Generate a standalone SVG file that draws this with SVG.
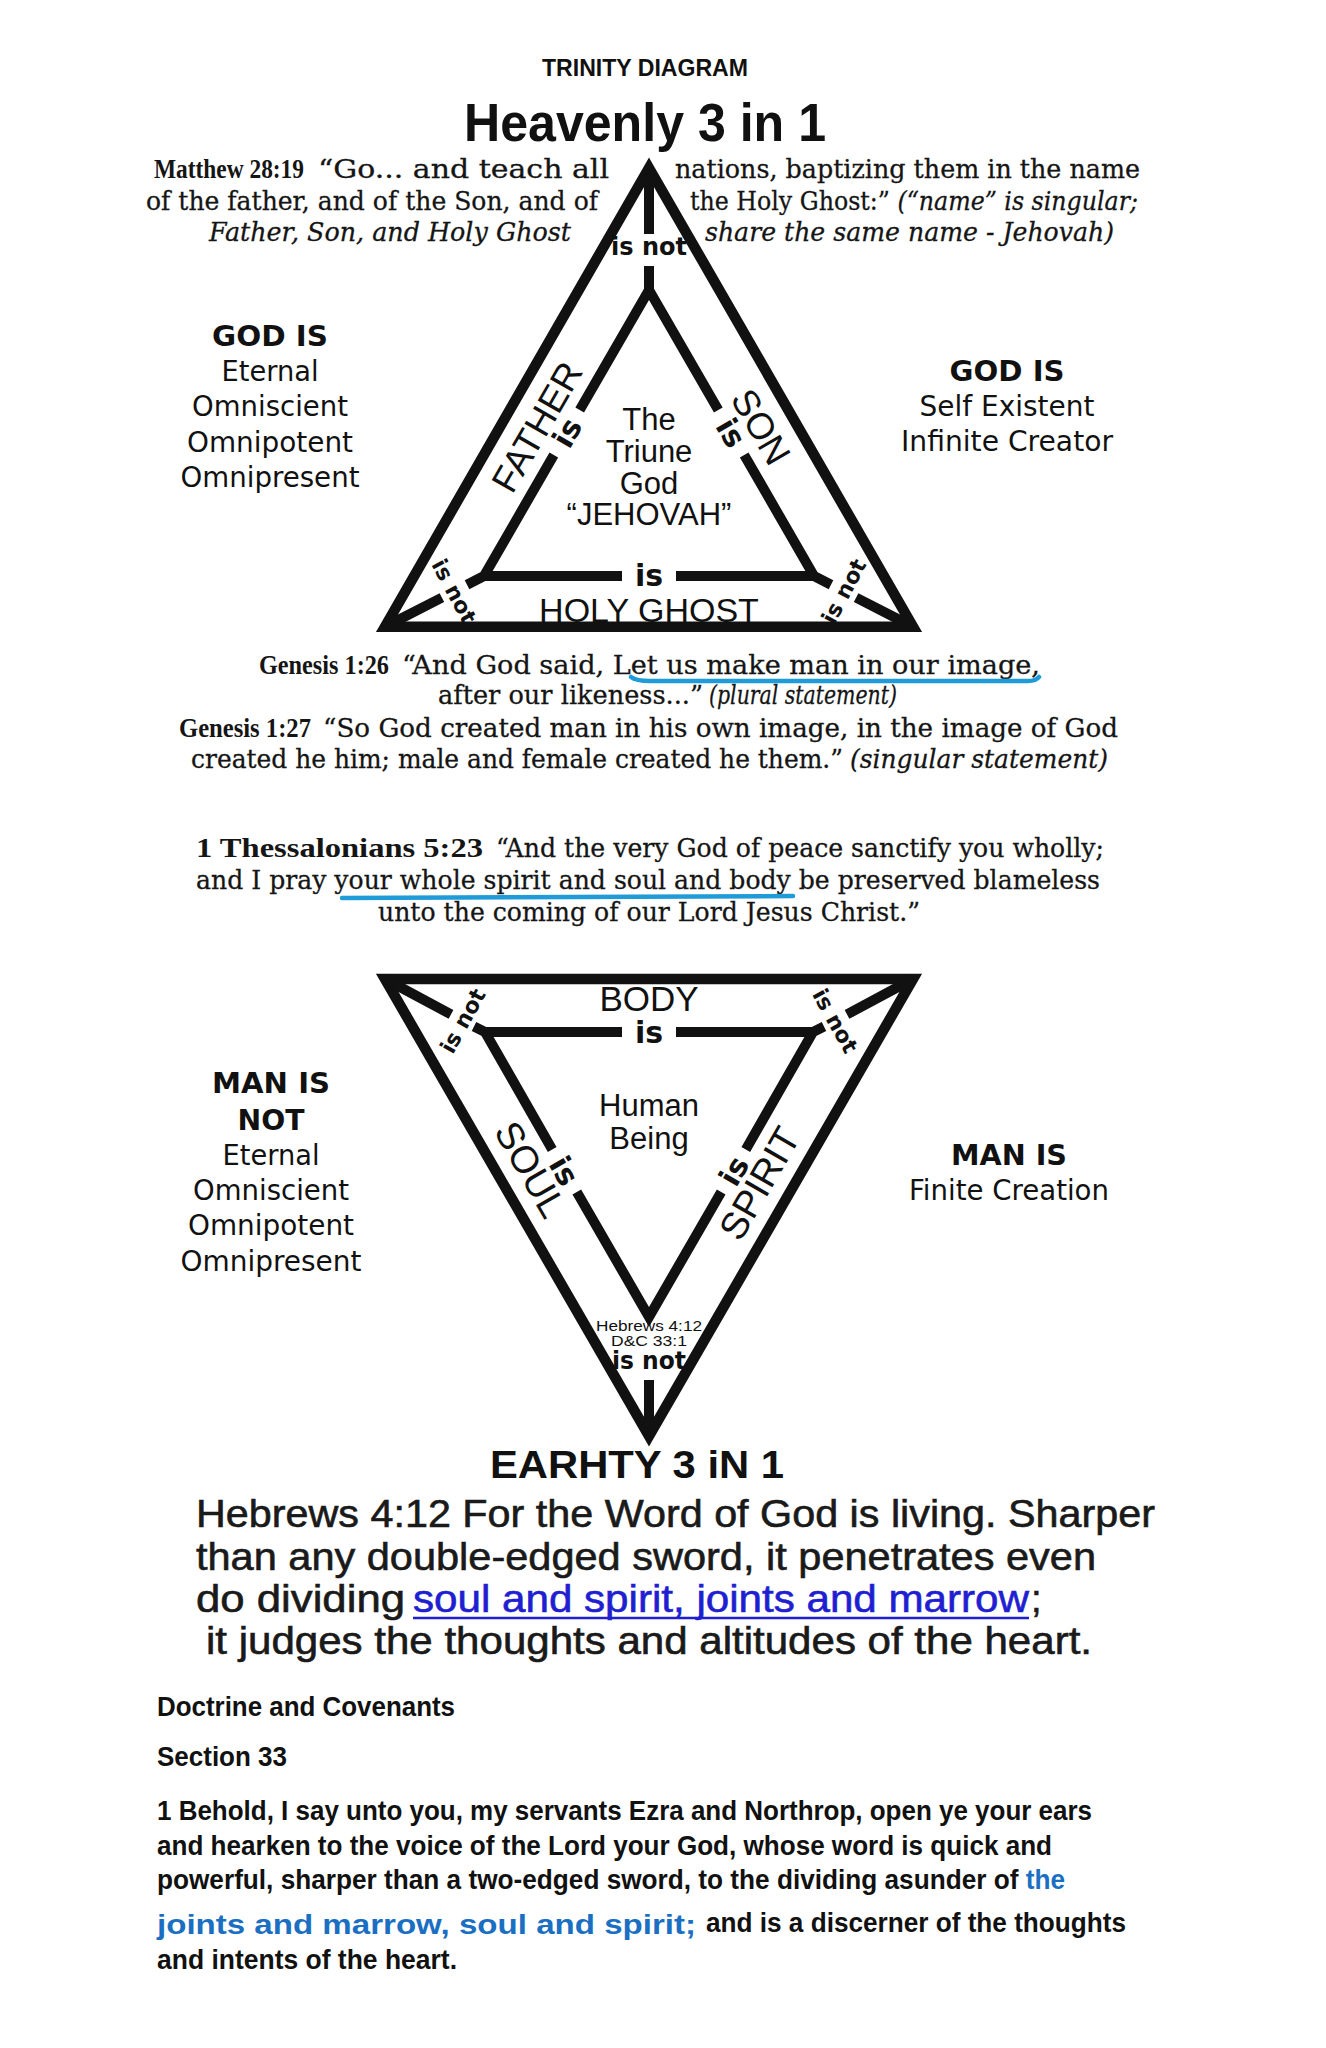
<svg xmlns="http://www.w3.org/2000/svg" width="1326" height="2048" viewBox="0 0 1326 2048">
<style>
.bg{fill:#ffffff}
.edge{fill:none;stroke:#111;stroke-width:10.5;stroke-linejoin:miter;stroke-miterlimit:10;stroke-linecap:butt}
.inner{fill:none;stroke:#111;stroke-width:10;stroke-linejoin:miter;stroke-miterlimit:10;stroke-linecap:butt}
.serif{font-family:"DejaVu Serif","Liberation Serif",serif;font-size:26px;fill:#151515;stroke:#151515;stroke-width:0.3}
.lead{font-family:"Liberation Serif","DejaVu Serif",serif;font-size:27px;font-weight:bold;fill:#151515}
.it{font-style:italic}
.b{font-weight:bold}
.tah{font-family:"DejaVu Sans","Liberation Sans",sans-serif;font-size:28px;fill:#111;text-anchor:middle}
.hel{font-family:"Liberation Sans",Arial,sans-serif;fill:#111}
.mid{text-anchor:middle}
.lbl{font-family:"DejaVu Sans","Liberation Sans",sans-serif;font-weight:bold;fill:#111;text-anchor:middle}
.heb{font-family:"Liberation Sans",Arial,sans-serif;font-size:38px;fill:#1a1a1a;stroke:#1a1a1a;stroke-width:0.6}
.hebblue{fill:#1f1fd1;stroke:#1f1fd1}
.dc{font-family:"Liberation Sans",Arial,sans-serif;font-size:27px;font-weight:bold;fill:#111}
.dcblue{fill:#1b6fc2}
.ulblue{fill:none;stroke:#1f9bd8;stroke-width:4.5;stroke-linecap:round}
</style>
<rect class="bg" x="0" y="0" width="1326" height="2048"/>

<g id="titles">
<text class="hel b mid" x="645" y="76" font-size="23" textLength="206" lengthAdjust="spacingAndGlyphs">TRINITY DIAGRAM</text>
<text class="hel b mid" x="645" y="141" font-size="53" textLength="362" lengthAdjust="spacingAndGlyphs">Heavenly 3 in 1</text>
</g>

<g id="matthew">
<text class="lead" x="154" y="178" textLength="150" lengthAdjust="spacingAndGlyphs">Matthew 28:19</text>
<text class="serif" x="318" y="178" textLength="291" lengthAdjust="spacingAndGlyphs">“Go... and teach all</text>
<text class="serif" x="146" y="210" textLength="452" lengthAdjust="spacingAndGlyphs">of the father, and of the Son, and of</text>
<text class="serif it" x="209" y="241" textLength="362" lengthAdjust="spacingAndGlyphs">Father, Son, and Holy Ghost</text>
<text class="serif" x="675" y="178" textLength="465" lengthAdjust="spacingAndGlyphs">nations, baptizing them in the name</text>
<text class="serif" x="690" y="210" textLength="448" lengthAdjust="spacingAndGlyphs">the Holy Ghost:” <tspan class="it">(“name” is singular;</tspan></text>
<text class="serif it" x="705" y="241" textLength="409" lengthAdjust="spacingAndGlyphs">share the same name - Jehovah)</text>
</g>

<g id="god-is-left">
<text class="tah b" x="270" y="346" font-size="29" textLength="116" lengthAdjust="spacingAndGlyphs">GOD IS</text>
<text class="tah" x="270" y="381" textLength="97" lengthAdjust="spacingAndGlyphs">Eternal</text>
<text class="tah" x="270" y="416" textLength="156" lengthAdjust="spacingAndGlyphs">Omniscient</text>
<text class="tah" x="270" y="452" textLength="166" lengthAdjust="spacingAndGlyphs">Omnipotent</text>
<text class="tah" x="270" y="487" textLength="179" lengthAdjust="spacingAndGlyphs">Omnipresent</text>
</g>

<g id="god-is-right">
<text class="tah b" x="1007" y="381" font-size="29" textLength="115" lengthAdjust="spacingAndGlyphs">GOD IS</text>
<text class="tah" x="1007" y="416" textLength="175" lengthAdjust="spacingAndGlyphs">Self Existent</text>
<text class="tah" x="1007" y="451" textLength="212" lengthAdjust="spacingAndGlyphs">Infinite Creator</text>
</g>

<g id="heavenly-triangle">
<path class="edge" d="M649,168 L913,626.75 L385,626.75 Z"/>
<path class="inner" d="M649,168 V234 M649,266 V290"/>
<path class="inner" d="M579.7,410.1 L649,290 L718.3,410.1"/>
<path class="inner" d="M553.8,455 L484,576 L622,576 M484,576 L467,584.8"/>
<path class="inner" d="M744.2,455 L814,576 L676,576 M814,576 L831,584.8"/>
<path class="inner" d="M441.9,597.6 L385,626.75 M856.1,597.6 L913,626.75"/>
<text class="lbl" x="649" y="255" font-size="24" textLength="76" lengthAdjust="spacingAndGlyphs">is not</text>
<text class="lbl" transform="translate(454.4,591.2) rotate(62)" y="8" font-size="22">is not</text>
<text class="lbl" transform="translate(843.6,591.2) rotate(-62)" y="8" font-size="22">is not</text>
<text class="lbl" x="649" y="586" font-size="30">is</text>
<text class="lbl" transform="translate(566.7,432.6) rotate(-60)" y="11" font-size="30">is</text>
<text class="lbl" transform="translate(731.3,432.6) rotate(60)" y="11" font-size="30">is</text>
<text class="hel mid" transform="translate(536.9,426.8) rotate(-60)" y="13" font-size="37">FATHER</text>
<text class="hel mid" transform="translate(761.1,426.8) rotate(60)" y="13" font-size="37">SON</text>
<text class="hel mid" x="649" y="622" font-size="34">HOLY GHOST</text>
<text class="hel mid" x="649" y="430" font-size="31">The</text>
<text class="hel mid" x="649" y="462" font-size="31">Triune</text>
<text class="hel mid" x="649" y="494" font-size="31">God</text>
<text class="hel mid" x="649" y="525" font-size="31">“JEHOVAH”</text>
</g>

<g id="genesis">
<text class="lead" x="259" y="674" textLength="130" lengthAdjust="spacingAndGlyphs">Genesis 1:26</text>
<text class="serif" x="402" y="674" textLength="638" lengthAdjust="spacingAndGlyphs">“And God said, Let us make man in our image,</text>
<text class="serif" x="438" y="704" textLength="265" lengthAdjust="spacingAndGlyphs">after our likeness...”</text>
<text class="serif it" x="709" y="704" textLength="188" lengthAdjust="spacingAndGlyphs">(plural statement)</text>
<text class="lead" x="179" y="737" textLength="132" lengthAdjust="spacingAndGlyphs">Genesis 1:27</text>
<text class="serif" x="323" y="737" textLength="795" lengthAdjust="spacingAndGlyphs">“So God created man in his own image, in the image of God</text>
<text class="serif" x="191" y="768" textLength="652" lengthAdjust="spacingAndGlyphs">created he him; male and female created he them.”</text>
<text class="serif it" x="850" y="768" textLength="258" lengthAdjust="spacingAndGlyphs">(singular statement)</text>
<path class="ulblue" d="M631,677 Q636,681 650,681 L1028,681 Q1036,681 1039,677"/>
</g>

<g id="thessalonians">
<text class="lead" x="196" y="857" textLength="287" lengthAdjust="spacingAndGlyphs">1 Thessalonians 5:23</text>
<text class="serif" x="496" y="857" textLength="608" lengthAdjust="spacingAndGlyphs">“And the very God of peace sanctify you wholly;</text>
<text class="serif" x="196" y="889" textLength="904" lengthAdjust="spacingAndGlyphs">and I pray your whole spirit and soul and body be preserved blameless</text>
<text class="serif" x="378" y="921" textLength="542" lengthAdjust="spacingAndGlyphs">unto the coming of our Lord Jesus Christ.”</text>
<path class="ulblue" d="M342,898 L793,896"/>
</g>

<g id="man-is-not">
<text class="tah b" x="271" y="1093" font-size="29" textLength="118" lengthAdjust="spacingAndGlyphs">MAN IS</text>
<text class="tah b" x="271" y="1130" font-size="29" textLength="67" lengthAdjust="spacingAndGlyphs">NOT</text>
<text class="tah" x="271" y="1165" textLength="97" lengthAdjust="spacingAndGlyphs">Eternal</text>
<text class="tah" x="271" y="1200" textLength="156" lengthAdjust="spacingAndGlyphs">Omniscient</text>
<text class="tah" x="271" y="1235" textLength="166" lengthAdjust="spacingAndGlyphs">Omnipotent</text>
<text class="tah" x="271" y="1271" textLength="181" lengthAdjust="spacingAndGlyphs">Omnipresent</text>
</g>

<g id="man-is-right">
<text class="tah b" x="1009" y="1165" font-size="29" textLength="116" lengthAdjust="spacingAndGlyphs">MAN IS</text>
<text class="tah" x="1009" y="1200" textLength="200" lengthAdjust="spacingAndGlyphs">Finite Creation</text>
</g>

<g id="earthly-triangle">
<path class="edge" d="M385,979 L913,979 L649,1436 Z"/>
<path class="inner" d="M622,1032 L485,1032 L552.2,1149.4 M485,1032 L474,1026.5"/>
<path class="inner" d="M676,1032 L813,1032 L745.8,1149.4 M813,1032 L824,1026.5"/>
<path class="inner" d="M576.8,1192 L649,1317 L721.2,1192"/>
<path class="inner" d="M451,1014.4 L385,979 M847,1014.4 L913,979"/>
<path class="inner" d="M649,1380 V1436"/>
<text class="hel mid" x="649" y="1011" font-size="35">BODY</text>
<text class="lbl" x="649" y="1043" font-size="30">is</text>
<text class="lbl" transform="translate(564.5,1170.7) rotate(60)" y="11" font-size="30">is</text>
<text class="lbl" transform="translate(733.5,1170.7) rotate(-60)" y="11" font-size="30">is</text>
<text class="hel mid" transform="translate(530.4,1169.6) rotate(60)" y="13" font-size="38">SOUL</text>
<text class="hel mid" transform="translate(759.6,1183.5) rotate(-60)" y="13" font-size="38">SPIRIT</text>
<text class="lbl" transform="translate(462.5,1020.7) rotate(-61)" y="8" font-size="22">is not</text>
<text class="lbl" transform="translate(835.5,1020.7) rotate(61)" y="8" font-size="22">is not</text>
<text class="hel mid" x="649" y="1116" font-size="31">Human</text>
<text class="hel mid" x="649" y="1149" font-size="31">Being</text>
<text class="hel mid" x="649" y="1331" font-size="15" textLength="106" lengthAdjust="spacingAndGlyphs">Hebrews 4:12</text>
<text class="hel mid" x="649" y="1346" font-size="15" textLength="76" lengthAdjust="spacingAndGlyphs">D&amp;C 33:1</text>
<text class="lbl" x="649" y="1369" font-size="24" textLength="74" lengthAdjust="spacingAndGlyphs">is not</text>
</g>

<g id="earthly-title">
<text class="hel b" x="490" y="1478" font-size="38" textLength="294" lengthAdjust="spacingAndGlyphs">EARHTY 3 iN 1</text>
</g>

<g id="hebrews">
<text class="heb" x="196" y="1527" textLength="959" lengthAdjust="spacingAndGlyphs">Hebrews 4:12 For the Word of God is living. Sharper</text>
<text class="heb" x="196" y="1570" textLength="900" lengthAdjust="spacingAndGlyphs">than any double-edged sword, it penetrates even</text>
<text class="heb" x="196" y="1612" textLength="209" lengthAdjust="spacingAndGlyphs">do dividing</text>
<text class="heb hebblue" x="413" y="1612" textLength="616" lengthAdjust="spacingAndGlyphs">soul and spirit, joints and marrow</text>
<text class="heb" x="1031" y="1612">;</text>
<line x1="413" y1="1618" x2="1029" y2="1618" stroke="#1f1fd1" stroke-width="2.5"/>
<text class="heb" x="206" y="1654" textLength="886" lengthAdjust="spacingAndGlyphs">it judges the thoughts and altitudes of the heart.</text>
</g>

<g id="doctrine-covenants">
<text class="dc" x="157" y="1716" textLength="298" lengthAdjust="spacingAndGlyphs">Doctrine and Covenants</text>
<text class="dc" x="157" y="1766" textLength="130" lengthAdjust="spacingAndGlyphs">Section 33</text>
<text class="dc" x="157" y="1820" textLength="935" lengthAdjust="spacingAndGlyphs">1 Behold, I say unto you, my servants Ezra and Northrop, open ye your ears</text>
<text class="dc" x="157" y="1855" textLength="895" lengthAdjust="spacingAndGlyphs">and hearken to the voice of the Lord your God, whose word is quick and</text>
<text class="dc" x="157" y="1889" textLength="908" lengthAdjust="spacingAndGlyphs">powerful, sharper than a two-edged sword, to the dividing asunder of <tspan class="dcblue">the</tspan></text>
<text class="dc dcblue" x="157" y="1934" font-size="32" textLength="539" lengthAdjust="spacingAndGlyphs">joints and marrow, soul and spirit;</text>
<text class="dc" x="706" y="1932" textLength="420" lengthAdjust="spacingAndGlyphs">and is a discerner of the thoughts</text>
<text class="dc" x="157" y="1969" textLength="300" lengthAdjust="spacingAndGlyphs">and intents of the heart.</text>
</g>
</svg>
